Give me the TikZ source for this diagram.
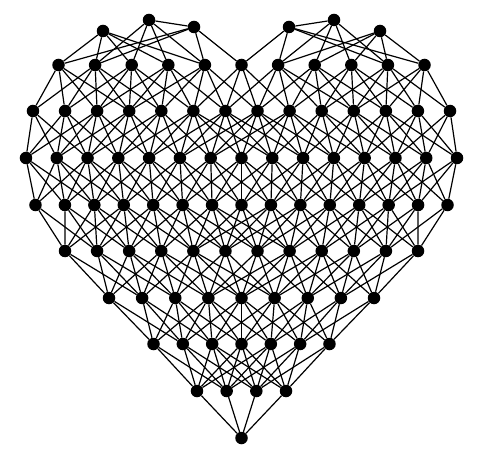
\documentclass[tikz,border=0pt]{standalone}
\begin{document}
\begin{tikzpicture}[x=1pt,y=-1pt,
  dot/.style={circle,fill=black,draw=none,inner sep=0pt,minimum size=12.5pt},
  edge/.style={line width=1.2pt,black}]
\useasboundingbox (0,0) rectangle (489,462);
% top row (two lobes)
\node[dot] (r0-1) at (103,31) {};
\node[dot] (r0-2) at (149,20) {};
\node[dot] (r0-3) at (194,27) {};
\node[dot] (r0-4) at (289,27) {};
\node[dot] (r0-5) at (334,20) {};
\node[dot] (r0-6) at (380,31) {};
% layered rows
\foreach \r/\n/\dx/\y in {1/11/36.6/65, 2/14/32.08/111, 3/15/30.79/158,
   4/15/29.43/205, 5/12/32.09/251, 6/9/33.125/298, 7/7/29.33/344,
   8/4/29.67/391, 9/1/0/438}{
  \foreach \i in {1,...,\n}{
    \node[dot] (r\r-\i) at ({241.5+(\i-(\n+1)/2)*\dx},\y) {};
  }
}
% top edges
\draw[edge] (r0-2) -- (r0-3);
\draw[edge] (r0-4) -- (r0-5);
\foreach \j in {1,2,3,4,5}{\draw[edge] (r0-1) -- (r1-\j);}
\foreach \j in {2,3,4,5}{\draw[edge] (r0-2) -- (r1-\j);}
\foreach \j in {1,2,5,6}{\draw[edge] (r0-3) -- (r1-\j);}
\foreach \j in {11,10,9,8,7}{\draw[edge] (r0-6) -- (r1-\j);}
\foreach \j in {10,9,8,7}{\draw[edge] (r0-5) -- (r1-\j);}
\foreach \j in {11,10,7,6}{\draw[edge] (r0-4) -- (r1-\j);}
% layer edges by horizontal proximity
\foreach \r/\s/\na/\nb/\da/\db/\T in {1/2/11/14/36.6/32.08/80,
   2/3/14/15/32.08/30.79/80, 3/4/15/15/30.79/29.43/80,
   4/5/15/12/29.43/32.09/80, 5/6/12/9/32.09/33.125/82,
   6/7/9/7/33.125/29.33/76, 7/8/7/4/29.33/29.67/76, 8/9/4/1/29.67/0/80}{
  \foreach \i in {1,...,\na}{
    \foreach \j in {1,...,\nb}{
      \pgfmathtruncatemacro{\ok}{abs((\i-(\na+1)/2)*\da-(\j-(\nb+1)/2)*\db)<\T}
      \ifnum\ok=1 \draw[edge] (r\r-\i) -- (r\s-\j);\fi
    }
  }
}
\end{tikzpicture}
\end{document}
